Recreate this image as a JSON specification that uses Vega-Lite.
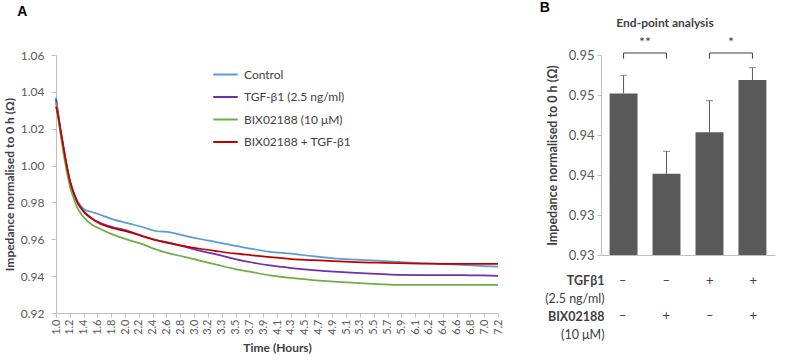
{
  "$schema": "https://vega.github.io/schema/vega-lite/v6.json",
  "background": "white",
  "padding": {"left": 3, "top": 0, "right": 5, "bottom": 2},
  "bounds": "flush",
  "spacing": 103,
  "config": {
    "font": "Lato",
    "view": {"stroke": null},
    "axis": {"domainColor": "#BFBFBF", "tickColor": "#BFBFBF", "labelColor": "#595959", "titleColor": "#404040", "grid": false, "labelFont": "Lato", "titleFont": "Lato"}
  },
  "hconcat": [
    {
      "width": 442,
      "height": 258,
      "title": {"text": "A", "anchor": "start", "frame": "bounds", "font": "Liberation Sans", "fontSize": 14, "fontWeight": "bold", "color": "black", "offset": 30, "dx": 14},
      "data": {"values": [
        {"s":"Control","t":1.0,"v":1.037},{"s":"Control","t":1.03,"v":1.028},{"s":"Control","t":1.06,"v":1.020},{"s":"Control","t":1.1,"v":1.011},{"s":"Control","t":1.15,"v":1.000},{"s":"Control","t":1.2,"v":0.991},{"s":"Control","t":1.25,"v":0.985},{"s":"Control","t":1.3,"v":0.981},{"s":"Control","t":1.35,"v":0.978},{"s":"Control","t":1.4,"v":0.9762},{"s":"Control","t":1.5,"v":0.9748},{"s":"Control","t":1.6,"v":0.9736},{"s":"Control","t":1.8,"v":0.9708},{"s":"Control","t":2.0,"v":0.9688},{"s":"Control","t":2.2,"v":0.9668},{"s":"Control","t":2.4,"v":0.9645},{"s":"Control","t":2.6,"v":0.9638},{"s":"Control","t":2.8,"v":0.962},{"s":"Control","t":3.0,"v":0.9603},{"s":"Control","t":3.25,"v":0.9585},{"s":"Control","t":3.5,"v":0.9566},{"s":"Control","t":3.75,"v":0.9548},{"s":"Control","t":4.0,"v":0.9532},{"s":"Control","t":4.3,"v":0.9522},{"s":"Control","t":4.6,"v":0.9508},{"s":"Control","t":4.9,"v":0.9497},{"s":"Control","t":5.2,"v":0.949},{"s":"Control","t":5.5,"v":0.9484},{"s":"Control","t":5.8,"v":0.9477},{"s":"Control","t":6.1,"v":0.947},{"s":"Control","t":6.4,"v":0.9465},{"s":"Control","t":6.7,"v":0.9461},{"s":"Control","t":7.0,"v":0.9455},{"s":"Control","t":7.2,"v":0.9451},
        {"s":"TGF-β1 (2.5 ng/ml)","t":1.0,"v":1.036},{"s":"TGF-β1 (2.5 ng/ml)","t":1.03,"v":1.028},{"s":"TGF-β1 (2.5 ng/ml)","t":1.06,"v":1.020},{"s":"TGF-β1 (2.5 ng/ml)","t":1.1,"v":1.011},{"s":"TGF-β1 (2.5 ng/ml)","t":1.15,"v":1.000},{"s":"TGF-β1 (2.5 ng/ml)","t":1.2,"v":0.991},{"s":"TGF-β1 (2.5 ng/ml)","t":1.25,"v":0.985},{"s":"TGF-β1 (2.5 ng/ml)","t":1.3,"v":0.980},{"s":"TGF-β1 (2.5 ng/ml)","t":1.35,"v":0.977},{"s":"TGF-β1 (2.5 ng/ml)","t":1.4,"v":0.9748},{"s":"TGF-β1 (2.5 ng/ml)","t":1.5,"v":0.9715},{"s":"TGF-β1 (2.5 ng/ml)","t":1.6,"v":0.9692},{"s":"TGF-β1 (2.5 ng/ml)","t":1.8,"v":0.9665},{"s":"TGF-β1 (2.5 ng/ml)","t":2.0,"v":0.9647},{"s":"TGF-β1 (2.5 ng/ml)","t":2.2,"v":0.962},{"s":"TGF-β1 (2.5 ng/ml)","t":2.4,"v":0.9596},{"s":"TGF-β1 (2.5 ng/ml)","t":2.6,"v":0.958},{"s":"TGF-β1 (2.5 ng/ml)","t":2.8,"v":0.956},{"s":"TGF-β1 (2.5 ng/ml)","t":3.0,"v":0.954},{"s":"TGF-β1 (2.5 ng/ml)","t":3.25,"v":0.9518},{"s":"TGF-β1 (2.5 ng/ml)","t":3.5,"v":0.9494},{"s":"TGF-β1 (2.5 ng/ml)","t":3.75,"v":0.9474},{"s":"TGF-β1 (2.5 ng/ml)","t":4.0,"v":0.9458},{"s":"TGF-β1 (2.5 ng/ml)","t":4.3,"v":0.9444},{"s":"TGF-β1 (2.5 ng/ml)","t":4.6,"v":0.9433},{"s":"TGF-β1 (2.5 ng/ml)","t":4.9,"v":0.9425},{"s":"TGF-β1 (2.5 ng/ml)","t":5.2,"v":0.9418},{"s":"TGF-β1 (2.5 ng/ml)","t":5.5,"v":0.9412},{"s":"TGF-β1 (2.5 ng/ml)","t":5.8,"v":0.9407},{"s":"TGF-β1 (2.5 ng/ml)","t":6.1,"v":0.9406},{"s":"TGF-β1 (2.5 ng/ml)","t":6.4,"v":0.9406},{"s":"TGF-β1 (2.5 ng/ml)","t":6.7,"v":0.9405},{"s":"TGF-β1 (2.5 ng/ml)","t":7.0,"v":0.9404},{"s":"TGF-β1 (2.5 ng/ml)","t":7.2,"v":0.9402},
        {"s":"BIX02188 (10 μM)","t":1.0,"v":1.034},{"s":"BIX02188 (10 μM)","t":1.03,"v":1.026},{"s":"BIX02188 (10 μM)","t":1.06,"v":1.018},{"s":"BIX02188 (10 μM)","t":1.1,"v":1.008},{"s":"BIX02188 (10 μM)","t":1.15,"v":0.997},{"s":"BIX02188 (10 μM)","t":1.2,"v":0.988},{"s":"BIX02188 (10 μM)","t":1.25,"v":0.982},{"s":"BIX02188 (10 μM)","t":1.3,"v":0.977},{"s":"BIX02188 (10 μM)","t":1.35,"v":0.9738},{"s":"BIX02188 (10 μM)","t":1.4,"v":0.9715},{"s":"BIX02188 (10 μM)","t":1.5,"v":0.968},{"s":"BIX02188 (10 μM)","t":1.6,"v":0.966},{"s":"BIX02188 (10 μM)","t":1.8,"v":0.9625},{"s":"BIX02188 (10 μM)","t":2.0,"v":0.9598},{"s":"BIX02188 (10 μM)","t":2.2,"v":0.9575},{"s":"BIX02188 (10 μM)","t":2.4,"v":0.9545},{"s":"BIX02188 (10 μM)","t":2.6,"v":0.9522},{"s":"BIX02188 (10 μM)","t":2.8,"v":0.9505},{"s":"BIX02188 (10 μM)","t":3.0,"v":0.9486},{"s":"BIX02188 (10 μM)","t":3.25,"v":0.9463},{"s":"BIX02188 (10 μM)","t":3.5,"v":0.944},{"s":"BIX02188 (10 μM)","t":3.75,"v":0.9422},{"s":"BIX02188 (10 μM)","t":4.0,"v":0.9404},{"s":"BIX02188 (10 μM)","t":4.3,"v":0.939},{"s":"BIX02188 (10 μM)","t":4.6,"v":0.9379},{"s":"BIX02188 (10 μM)","t":4.9,"v":0.937},{"s":"BIX02188 (10 μM)","t":5.2,"v":0.9363},{"s":"BIX02188 (10 μM)","t":5.5,"v":0.9357},{"s":"BIX02188 (10 μM)","t":5.8,"v":0.9353},{"s":"BIX02188 (10 μM)","t":6.1,"v":0.9352},{"s":"BIX02188 (10 μM)","t":6.4,"v":0.9352},{"s":"BIX02188 (10 μM)","t":6.7,"v":0.9352},{"s":"BIX02188 (10 μM)","t":7.0,"v":0.9352},{"s":"BIX02188 (10 μM)","t":7.2,"v":0.9352},
        {"s":"BIX02188 + TGF-β1","t":1.0,"v":1.032},{"s":"BIX02188 + TGF-β1","t":1.03,"v":1.027},{"s":"BIX02188 + TGF-β1","t":1.06,"v":1.020},{"s":"BIX02188 + TGF-β1","t":1.1,"v":1.011},{"s":"BIX02188 + TGF-β1","t":1.15,"v":1.000},{"s":"BIX02188 + TGF-β1","t":1.2,"v":0.991},{"s":"BIX02188 + TGF-β1","t":1.25,"v":0.985},{"s":"BIX02188 + TGF-β1","t":1.3,"v":0.980},{"s":"BIX02188 + TGF-β1","t":1.35,"v":0.977},{"s":"BIX02188 + TGF-β1","t":1.4,"v":0.9745},{"s":"BIX02188 + TGF-β1","t":1.5,"v":0.9712},{"s":"BIX02188 + TGF-β1","t":1.6,"v":0.9688},{"s":"BIX02188 + TGF-β1","t":1.8,"v":0.966},{"s":"BIX02188 + TGF-β1","t":2.0,"v":0.9642},{"s":"BIX02188 + TGF-β1","t":2.2,"v":0.9618},{"s":"BIX02188 + TGF-β1","t":2.4,"v":0.9595},{"s":"BIX02188 + TGF-β1","t":2.6,"v":0.9578},{"s":"BIX02188 + TGF-β1","t":2.8,"v":0.9563},{"s":"BIX02188 + TGF-β1","t":3.0,"v":0.955},{"s":"BIX02188 + TGF-β1","t":3.25,"v":0.9536},{"s":"BIX02188 + TGF-β1","t":3.5,"v":0.9523},{"s":"BIX02188 + TGF-β1","t":3.75,"v":0.9513},{"s":"BIX02188 + TGF-β1","t":4.0,"v":0.9503},{"s":"BIX02188 + TGF-β1","t":4.3,"v":0.9493},{"s":"BIX02188 + TGF-β1","t":4.6,"v":0.9487},{"s":"BIX02188 + TGF-β1","t":4.9,"v":0.9481},{"s":"BIX02188 + TGF-β1","t":5.2,"v":0.9476},{"s":"BIX02188 + TGF-β1","t":5.5,"v":0.9473},{"s":"BIX02188 + TGF-β1","t":5.8,"v":0.947},{"s":"BIX02188 + TGF-β1","t":6.1,"v":0.9468},{"s":"BIX02188 + TGF-β1","t":6.4,"v":0.9467},{"s":"BIX02188 + TGF-β1","t":6.7,"v":0.9466},{"s":"BIX02188 + TGF-β1","t":7.0,"v":0.9466},{"s":"BIX02188 + TGF-β1","t":7.2,"v":0.9466}
      ]},
      "mark": {"type": "line", "strokeWidth": 1.75, "interpolate": "monotone"},
      "encoding": {
        "x": {
          "field": "t", "type": "quantitative",
          "scale": {"domain": [1, 7.2], "nice": false, "zero": false},
          "axis": {
            "values": [1.0,1.19375,1.3875,1.58125,1.775,1.96875,2.1625,2.35625,2.55,2.74375,2.9375,3.13125,3.325,3.51875,3.7125,3.90625,4.1,4.29375,4.4875,4.68125,4.875,5.06875,5.2625,5.45625,5.65,5.84375,6.0375,6.23125,6.425,6.61875,6.8125,7.00625,7.2],
            "tickCount": 40,
            "labelExpr": "['1.0','1.2','1.4','1.6','1.8','2.0','2.2','2.4','2.6','2.8','3.0','3.2','3.3','3.5','3.7','3.9','4.1','4.3','4.5','4.7','4.9','5.1','5.3','5.5','5.7','5.9','6.1','6.2','6.4','6.6','6.8','7.0','7.2'][round((datum.value-1)/0.19375)]",
            "labelAngle": 270, "labelFontSize": 11, "tickSize": 4, "labelPadding": 2, "labelOverlap": false,
            "title": "Time (Hours)", "titleFontSize": 12, "titleFontWeight": "bold", "titlePadding": 8
          }
        },
        "y": {
          "field": "v", "type": "quantitative",
          "scale": {"domain": [0.92, 1.06], "nice": false, "zero": false},
          "axis": {
            "values": [0.92,0.94,0.96,0.98,1.0,1.02,1.04,1.06], "tickCount": 10, "format": ".2f", "labelOverlap": false,
            "labelFontSize": 12, "tickSize": 5, "labelPadding": 7,
            "title": "Impedance normalised to 0 h (Ω)", "titleFontSize": 12, "titleFontWeight": "bold", "titlePadding": 4
          }
        },
        "color": {
          "field": "s", "type": "nominal",
          "scale": {"domain": ["Control", "TGF-β1 (2.5 ng/ml)", "BIX02188 (10 μM)", "BIX02188 + TGF-β1"], "range": ["#5B9BD5", "#7030A0", "#70AD47", "#C00000"]},
          "legend": {"orient": "none", "legendX": 156, "legendY": 6, "title": null, "symbolType": "stroke", "symbolSize": 600, "symbolStrokeWidth": 2, "labelFontSize": 12, "labelColor": "#404040", "rowPadding": 2.5, "labelOffset": 5, "padding": 0}
        }
      }
    },
    {
      "title": {"text": "B", "anchor": "start", "frame": "bounds", "font": "Liberation Sans", "fontSize": 14, "fontWeight": "bold", "color": "black", "offset": 2, "dx": -5},
      "bounds": "flush",
      "spacing": 17,
      "vconcat": [
        {
          "width": 174,
          "height": 200,
          "title": {"text": "End-point analysis", "anchor": "middle", "font": "Lato", "fontSize": 12, "fontWeight": "bold", "color": "#404040", "offset": 6, "dx": -23},
          "data": {"values": [
            {"c":"c1","m":0.9452,"hi":0.94746},
            {"c":"c2","m":0.93516,"hi":0.93796},
            {"c":"c3","m":0.94033,"hi":0.94429},
            {"c":"c4","m":0.946875,"hi":0.94842}
          ]},
          "layer": [
            {
              "mark": {"type": "bar", "color": "#595959"},
              "encoding": {
                "x": {"field": "c", "type": "nominal", "scale": {"domain": ["c1","c2","c3","c4"], "paddingInner": 0.35, "paddingOuter": 0.2}, "axis": {"labels": false, "ticks": false, "title": null}},
                "y": {"field": "m", "type": "quantitative", "scale": {"domain": [0.925, 0.95], "nice": false, "zero": false},
                  "axis": {"values": [0.925,0.93,0.935,0.94,0.945,0.95], "tickCount": 12, "labelExpr": "datum.value > 0.9425 ? '0.95' : datum.value > 0.9325 ? '0.94' : '0.93'", "labelOverlap": false, "labelFontSize": 13, "tickSize": 4, "labelPadding": 3,
                    "title": "Impedance normalised to 0 h (Ω)", "titleFontSize": 12.5, "titleFontWeight": "bold", "titlePadding": 9}},
                "y2": {"datum": 0.925}
              }
            },
            {
              "mark": {"type": "rule", "color": "#595959", "strokeWidth": 1},
              "encoding": {
                "x": {"field": "c", "type": "nominal", "bandPosition": 0.5},
                "y": {"field": "m", "type": "quantitative"},
                "y2": {"field": "hi"}
              }
            },
            {
              "mark": {"type": "tick", "color": "#595959", "size": 7, "thickness": 1, "orient": "horizontal"},
              "encoding": {
                "x": {"field": "c", "type": "nominal"},
                "y": {"field": "hi", "type": "quantitative"}
              }
            },
            {
              "data": {"values": [
                {"a":"c1","b":"c2","top":0.95025,"leg":0.94954,"ys":0.9515,"star":"**"},
                {"a":"c3","b":"c4","top":0.95025,"leg":0.94954,"ys":0.9515,"star":"*"}
              ]},
              "layer": [
                {
                  "mark": {"type": "rule", "color": "#404040", "strokeWidth": 1},
                  "encoding": {
                    "x": {"field": "a", "type": "nominal", "bandPosition": 0.5},
                    "x2": {"field": "b", "bandPosition": 0.5},
                    "y": {"field": "top", "type": "quantitative"}
                  }
                },
                {
                  "mark": {"type": "rule", "color": "#404040", "strokeWidth": 1},
                  "encoding": {
                    "x": {"field": "a", "type": "nominal", "bandPosition": 0.5},
                    "y": {"field": "top", "type": "quantitative"},
                    "y2": {"field": "leg"}
                  }
                },
                {
                  "mark": {"type": "rule", "color": "#404040", "strokeWidth": 1},
                  "encoding": {
                    "x": {"field": "b", "type": "nominal", "bandPosition": 0.5},
                    "y": {"field": "top", "type": "quantitative"},
                    "y2": {"field": "leg"}
                  }
                },
                {
                  "mark": {"type": "text", "color": "#404040", "fontSize": 14, "dx": 21.5, "baseline": "middle"},
                  "encoding": {
                    "x": {"field": "a", "type": "nominal", "bandPosition": 0.5},
                    "y": {"field": "ys", "type": "quantitative"},
                    "text": {"field": "star"}
                  }
                }
              ]
            }
          ]
        },
        {
          "width": 174,
          "height": 71,
          "data": {"values": [
            {"c":"c1","r":"TGFβ1","sg":"–"},{"c":"c2","r":"TGFβ1","sg":"–"},{"c":"c3","r":"TGFβ1","sg":"+"},{"c":"c4","r":"TGFβ1","sg":"+"},
            {"c":"c1","r":"BIX02188","sg":"–"},{"c":"c2","r":"BIX02188","sg":"+"},{"c":"c3","r":"BIX02188","sg":"–"},{"c":"c4","r":"BIX02188","sg":"+"}
          ]},
          "mark": {"type": "text", "fontSize": 13, "color": "#404040"},
          "encoding": {
            "x": {"field": "c", "type": "nominal", "scale": {"domain": ["c1","c2","c3","c4"], "paddingInner": 0.35, "paddingOuter": 0.2}, "axis": null},
            "y": {"field": "r", "type": "nominal", "scale": {"domain": ["TGFβ1", "(2.5 ng/ml)", "BIX02188", "(10 μM)"], "paddingInner": 0, "paddingOuter": 0},
              "axis": {"title": null, "ticks": false, "domain": false, "labelPadding": -3, "labelFontSize": 12.5, "labelColor": "#404040",
                "labelFontWeight": {"condition": {"test": "datum.value == 'TGFβ1' || datum.value == 'BIX02188'", "value": "bold"}, "value": "normal"}}},
            "text": {"field": "sg"}
          }
        }
      ]
    }
  ]
}
